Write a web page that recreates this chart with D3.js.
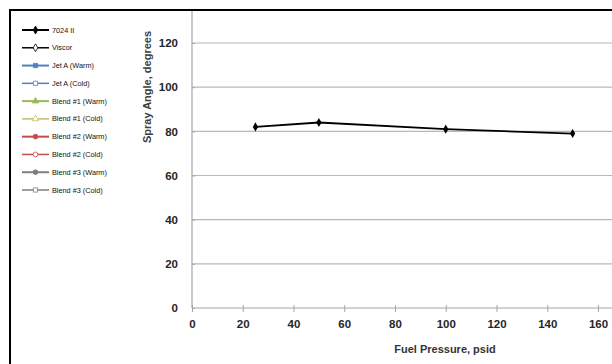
<!DOCTYPE html>
<html>
<head>
<meta charset="utf-8">
<script src="https://cdn.jsdelivr.net/npm/d3@7"></script>
<style>
  body { margin: 0; background: #fff; }
  svg { display: block; font-family: "Liberation Sans", Arial, sans-serif; }
</style>
</head>
<body>
<div id="viscontainer"></div>
<script>
const seriesNames = [
  "7024 II", "Viscor", "Jet A (Warm)", "Jet A (Cold)",
  "Blend #1 (Warm)", "Blend #1 (Cold)", "Blend #2 (Warm)",
  "Blend #2 (Cold)", "Blend #3 (Warm)", "Blend #3 (Cold)"
];
const pressures = [25, 50, 100, 150];
const angles7024 = [82, 84, 81, 79];
const xTicks = [0, 20, 40, 60, 80, 100, 120, 140, 160];
const yTicks = [0, 20, 40, 60, 80, 100, 120];

// legend styling per series: colour, marker shape, filled
const legendStyle = [
  { color: "#000000", shape: d3.symbolDiamond, filled: true },
  { color: "#000000", shape: d3.symbolDiamond, filled: false },
  { color: "#4f81bd", shape: d3.symbolSquare, filled: true },
  { color: "#4f81bd", shape: d3.symbolSquare, filled: false },
  { color: "#9bbb59", shape: d3.symbolTriangle, filled: true },
  { color: "#c4bd6a", shape: d3.symbolTriangle, filled: false },
  { color: "#c0504d", shape: d3.symbolCircle, filled: true },
  { color: "#c0504d", shape: d3.symbolCircle, filled: false },
  { color: "#7f7f7f", shape: d3.symbolCircle, filled: true },
  { color: "#7f7f7f", shape: d3.symbolSquare, filled: false },
];

function makeVis() {
  const width = 612;
  const height = 364;
  const x0 = 192;

  const svg = d3.create("svg").attr("width", width).attr("height", height);
  viscontainer.append(svg.node());

  const xScale = d3.scaleLinear().domain([0, 160]).range([x0, 598]);
  const yScale = d3.scaleLinear().domain([0, 120]).range([308, 43]);

  svg.append("clipPath").attr("id", "plotClip")
    .append("rect").attr("x", 0).attr("y", 10).attr("width", width).attr("height", height);

  const plot = svg.append("g").attr("clip-path", "url(#plotClip)");

  // gridlines
  plot.append("g")
    .selectAll("line")
    .data(yTicks.filter((d) => d > 0))
    .join("line")
    .attr("x1", x0)
    .attr("x2", width)
    .attr("y1", (d) => yScale(d))
    .attr("y2", (d) => yScale(d))
    .attr("stroke", "#b8b8b8")
    .attr("stroke-width", 1.2);

  // y axis
  const yAxis = plot.append("g")
    .attr("transform", `translate(${x0},0)`)
    .call(d3.axisLeft(yScale).tickValues(yTicks).tickSize(5).tickSizeOuter(0).tickPadding(9));
  yAxis.select(".domain").attr("d", `M0,${yScale(0)}V0`);

  // x axis
  const xAxis = plot.append("g")
    .attr("transform", `translate(0,${yScale(0)})`)
    .call(d3.axisBottom(xScale).tickValues(xTicks).tickSize(4).tickSizeOuter(0).tickPadding(8));
  xAxis.select(".domain").attr("d", `M${x0},0H${width}`);

  [yAxis, xAxis].forEach((ax) => {
    ax.selectAll(".domain").attr("stroke", "#a6a6a6").attr("stroke-width", 1.2);
    ax.selectAll(".tick line").attr("stroke", "#a6a6a6");
    ax.selectAll("text")
      .attr("font-size", 11.5)
      .attr("font-weight", "bold")
      .attr("fill", "#262626")
      .attr("font-family", "Liberation Sans, Arial, sans-serif");
  });
  xAxis.selectAll(".tick line").attr("y1", -3);
  yAxis.selectAll(".tick line").attr("x2", 3);

  // data line
  const pts = pressures.map((p, i) => ({ p, a: angles7024[i] }));
  const line = d3.line().x((d) => xScale(d.p)).y((d) => yScale(d.a));
  plot.append("path")
    .datum(pts)
    .attr("d", line)
    .attr("fill", "none")
    .attr("stroke", "#000")
    .attr("stroke-width", 1.8);
  plot.selectAll(".pt")
    .data(pts)
    .join("path")
    .attr("class", "pt")
    .attr("transform", (d) => `translate(${xScale(d.p)},${yScale(d.a)})`)
    .attr("d", d3.symbol().type(d3.symbolDiamond).size(24))
    .attr("fill", "#000");

  // axis titles
  svg.append("text")
    .attr("x", 445)
    .attr("y", 353)
    .attr("text-anchor", "middle")
    .attr("font-size", 11)
    .attr("font-weight", "bold")
    .attr("fill", "#333")
    .text("Fuel Pressure, psid");
  svg.append("text")
    .attr("transform", "translate(151,87) rotate(-90)")
    .attr("text-anchor", "middle")
    .attr("font-size", 11)
    .attr("font-weight", "bold")
    .attr("fill", "#404040")
    .text("Spray Angle, degrees");

  // legend
  const legendY = d3.scalePoint().domain(seriesNames).range([30, 190]);
  const items = svg.append("g")
    .selectAll("g")
    .data(seriesNames)
    .join("g")
    .attr("transform", (d) => `translate(22,${legendY(d)})`);
  items.append("line")
    .attr("x1", 0).attr("x2", 27)
    .attr("stroke", (d, i) => legendStyle[i].color)
    .attr("stroke-width", (d, i) => (i % 2 === 0 ? 2 : 1.5));
  items.append("path")
    .attr("transform", "translate(13.5,0)")
    .attr("d", (d, i) => d3.symbol().type(legendStyle[i].shape).size(18)())
    .attr("fill", (d, i) => (legendStyle[i].filled ? legendStyle[i].color : "#fff"))
    .attr("stroke", (d, i) => legendStyle[i].color)
    .attr("stroke-width", 0.8);
  items.append("text")
    .attr("x", 30)
    .attr("y", 2.5)
    .attr("font-size", 7.3)
    .attr("fill", "#111")
    .text((d) => d);

  // outer frame (cropped on right and bottom)
  svg.append("path")
    .attr("d", `M10,${height}V10H${width}`)
    .attr("fill", "none")
    .attr("stroke", "#000")
    .attr("stroke-width", 2);
}

makeVis();
</script>
</body>
</html>
